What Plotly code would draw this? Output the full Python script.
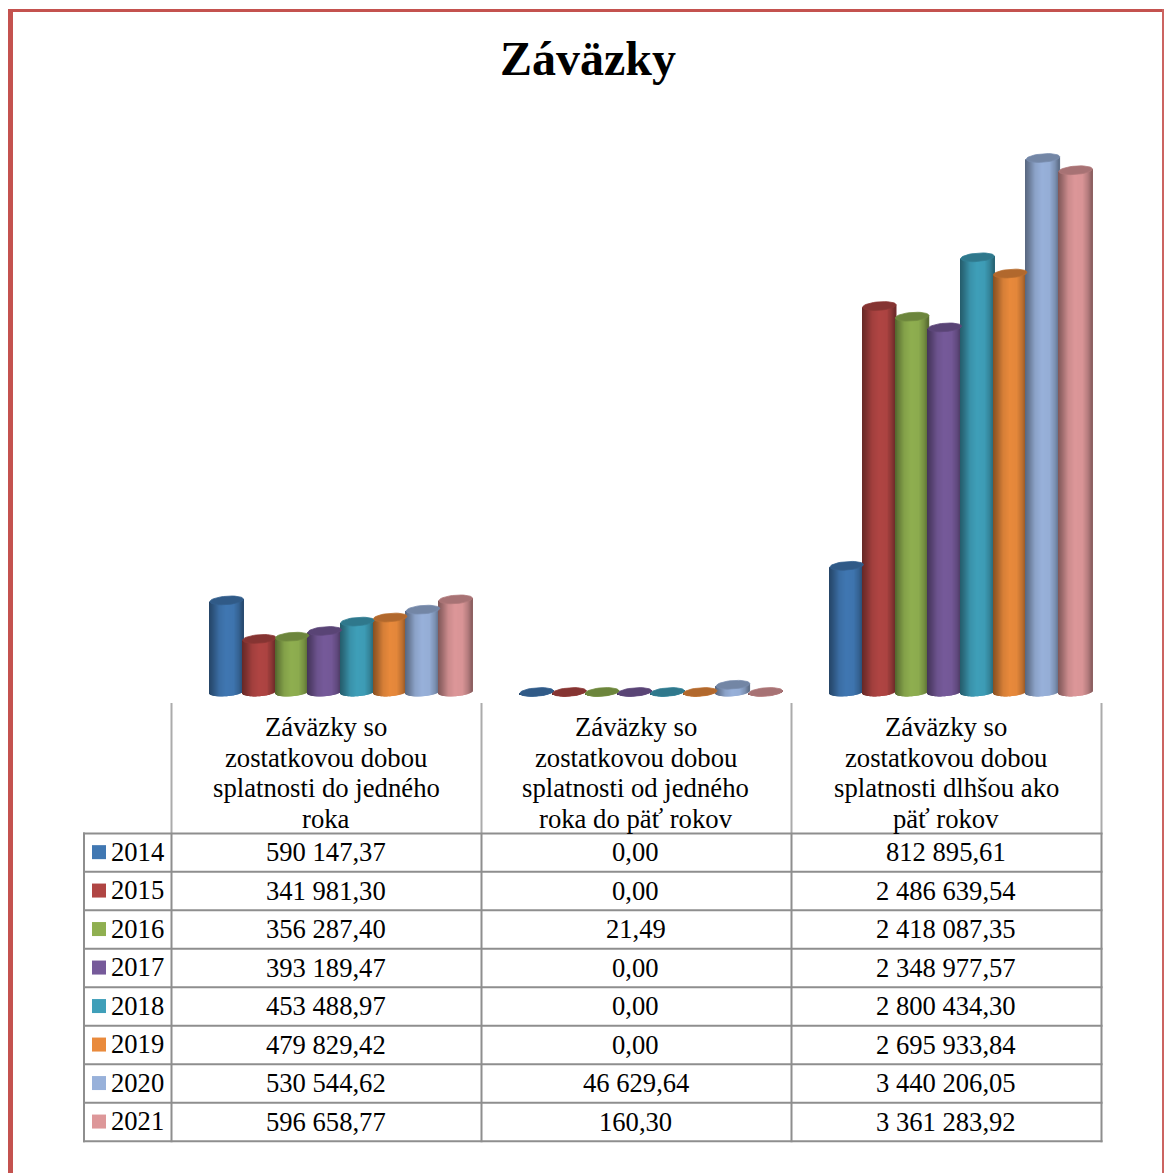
import math
import plotly.graph_objects as go

W, H = 1164, 1173
title = "Záväzky"
years = ["2014", "2015", "2016", "2017", "2018", "2019", "2020", "2021"]
colors = ["#4077B2", "#B04543", "#8FAF50", "#765A9A", "#3F9FB9", "#E98A3C", "#98B1DA", "#DD9799"]
category_lines = [
    ["Záväzky so", "zostatkovou dobou", "splatnosti do jedného", "roka"],
    ["Záväzky so", "zostatkovou dobou", "splatnosti od jedného", "roka do päť rokov"],
    ["Záväzky so", "zostatkovou dobou", "splatnosti dlhšou ako", "päť rokov"],
]
short_term = [590147.37, 341981.30, 356287.40, 393189.47, 453488.97, 479829.42, 530544.62, 596658.77]
mid_term = [0.00, 0.00, 21.49, 0.00, 0.00, 0.00, 46629.64, 160.30]
long_term = [812895.61, 2486639.54, 2418087.35, 2348977.57, 2800434.30, 2695933.84, 3440206.05, 3361283.92]
short_labels = ["590 147,37", "341 981,30", "356 287,40", "393 189,47", "453 488,97", "479 829,42", "530 544,62", "596 658,77"]
mid_labels = ["0,00", "0,00", "21,49", "0,00", "0,00", "0,00", "46 629,64", "160,30"]
long_labels = ["812 895,61", "2 486 639,54", "2 418 087,35", "2 348 977,57", "2 800 434,30", "2 695 933,84", "3 440 206,05", "3 361 283,92"]

series_by_group = [short_term, mid_term, long_term]

# page layout (pixels)
X0, GROUP_W = 171.5, 310.0
Y0, UNITS_PER_PX = 692.0, 3440206.05 / 534.0
BAR_STEP, SEMI_A, SEMI_B = 32.72, 16.8, 4.2
GROUP_SHIFT, TILT = 14.7, math.radians(4.5)
STRIPS = 34
GRID = "#8E8E8E"
FONT = "Liberation Serif"
TXT = 26.6


def shade(hex_color, f):
    r, g, b = (int(hex_color[i:i + 2], 16) for i in (1, 3, 5))
    return f"rgb({int(r * f)},{int(g * f)},{int(b * f)})"


def profile(t):
    pts = [(0, .58), (.12, .70), (.3, .92), (.5, 1.0), (.72, .98), (.88, .82), (1, .62)]
    for (a, fa), (b, fb) in zip(pts, pts[1:]):
        if t <= b:
            return fa + (fb - fa) * (t - a) / (b - a)
    return pts[-1][1]


def px(x):
    return (x - X0) / GROUP_W


def ell(u, v):
    """rotated-ellipse offset in pixels; positive y is up"""
    return (u * math.cos(TILT) - v * math.sin(TILT), u * math.sin(TILT) + v * math.cos(TILT))


fig = go.Figure()
caps = []
for s, color in enumerate(colors):
    xs, ys, bases, widths, cols = [], [], [], [], []
    for g in range(3):
        value = series_by_group[g][s]
        cx = X0 + (g + .5) * GROUP_W + GROUP_SHIFT + (s - 3.5) * BAR_STEP
        for k in range(STRIPS):
            t = (k + .5) / STRIPS
            u = (2 * t - 1) * SEMI_A
            v = SEMI_B * math.sqrt(max(0, 1 - (u / SEMI_A) ** 2))
            slope = u * math.tan(TILT)
            xs.append(px(cx + u))
            base = (slope - v) * UNITS_PER_PX
            bases.append(base)
            ys.append(value + slope * UNITS_PER_PX - base)
            widths.append(2 * SEMI_A / STRIPS * 1.6 / GROUP_W)
            cols.append(shade(color, profile(t)))
        cap_x, cap_y = [], []
        for d in range(0, 361, 10):
            a = math.radians(d)
            ox, oy = ell(SEMI_A * math.cos(a), SEMI_B * math.sin(a))
            cap_x.append(px(cx + ox))
            cap_y.append(value + oy * UNITS_PER_PX)
        caps.append(go.Scatter(x=cap_x, y=cap_y, mode="lines", fill="toself", fillcolor=shade(color, .76),
                               line=dict(color=shade(color, .8), width=.8), hoverinfo="skip", showlegend=False))
    fig.add_trace(go.Bar(x=xs, y=ys, base=bases, width=widths, marker=dict(color=cols, line=dict(width=0)),
                         hoverinfo="skip", showlegend=False, name=years[s]))
for c in caps:
    fig.add_trace(c)

shapes, ann = [], []


def rect(x0, y0, x1, y1, color):
    shapes.append(dict(type="rect", xref="paper", yref="paper", x0=x0 / W, x1=x1 / W, y0=1 - y0 / H, y1=1 - y1 / H,
                       fillcolor=color, line=dict(width=0), layer="above"))


def text(x, y, s, size=TXT, anchor="center", bold=False):
    ann.append(dict(xref="paper", yref="paper", x=x / W, y=1 - y / H, text=f"<b>{s}</b>" if bold else s,
                    showarrow=False, xanchor=anchor, yanchor="middle", align=anchor,
                    font=dict(family=FONT, size=size, color="#000000")))


# page frame
rect(8, 9, 13, H, "#C4524F")
rect(8, 9, W, 12, "#C4524F")
rect(1162, 9, W, H, "#CC6461")

text(588, 58, title, size=48, bold=True)

# table grid
col_x = [171.5, 481.5, 791.5, 1101.5]
row_y = [833.5, 871.8, 910.3, 948.8, 987.3, 1025.8, 1064.3, 1102.8, 1141.3]
for x in col_x:
    rect(x - 1, 703, x + 1, 833, "#ABABAB")
    rect(x - 1, 833, x + 1, row_y[-1] + 1, GRID)
rect(83, row_y[0] - 1, 85, row_y[-1] + 1, GRID)
for y in row_y:
    rect(83, y - 1, col_x[-1] + 1, y + 1, GRID)

# header labels
for g, lines in enumerate(category_lines):
    cx = (col_x[g] + col_x[g + 1]) / 2 - 0.5
    for i, line in enumerate(lines):
        text(cx, 727 + i * 30.7, line, size=26.7)

# rows
for r, year in enumerate(years):
    y = (row_y[r] + row_y[r + 1]) / 2 - .5
    rect(92, y - 7, 106, y + 7, colors[r])
    text(109, y - .5, year, anchor="left")
    for g, labels in enumerate([short_labels, mid_labels, long_labels]):
        text((col_x[g] + col_x[g + 1]) / 2 - 0.5, y, labels[r])

fig.update_layout(
    width=W, height=H, margin=dict(l=0, r=0, t=0, b=0), paper_bgcolor="white", plot_bgcolor="white",
    barmode="overlay", showlegend=False, shapes=shapes, annotations=ann,
    xaxis=dict(visible=False, range=[px(0), px(W)], fixedrange=True),
    yaxis=dict(visible=False, range=[(Y0 - H) * UNITS_PER_PX, Y0 * UNITS_PER_PX], fixedrange=True),
)
fig.write_html("out.html", config={"displayModeBar": False},
               post_script="document.body.style.margin='0';document.documentElement.style.overflow='hidden';")
